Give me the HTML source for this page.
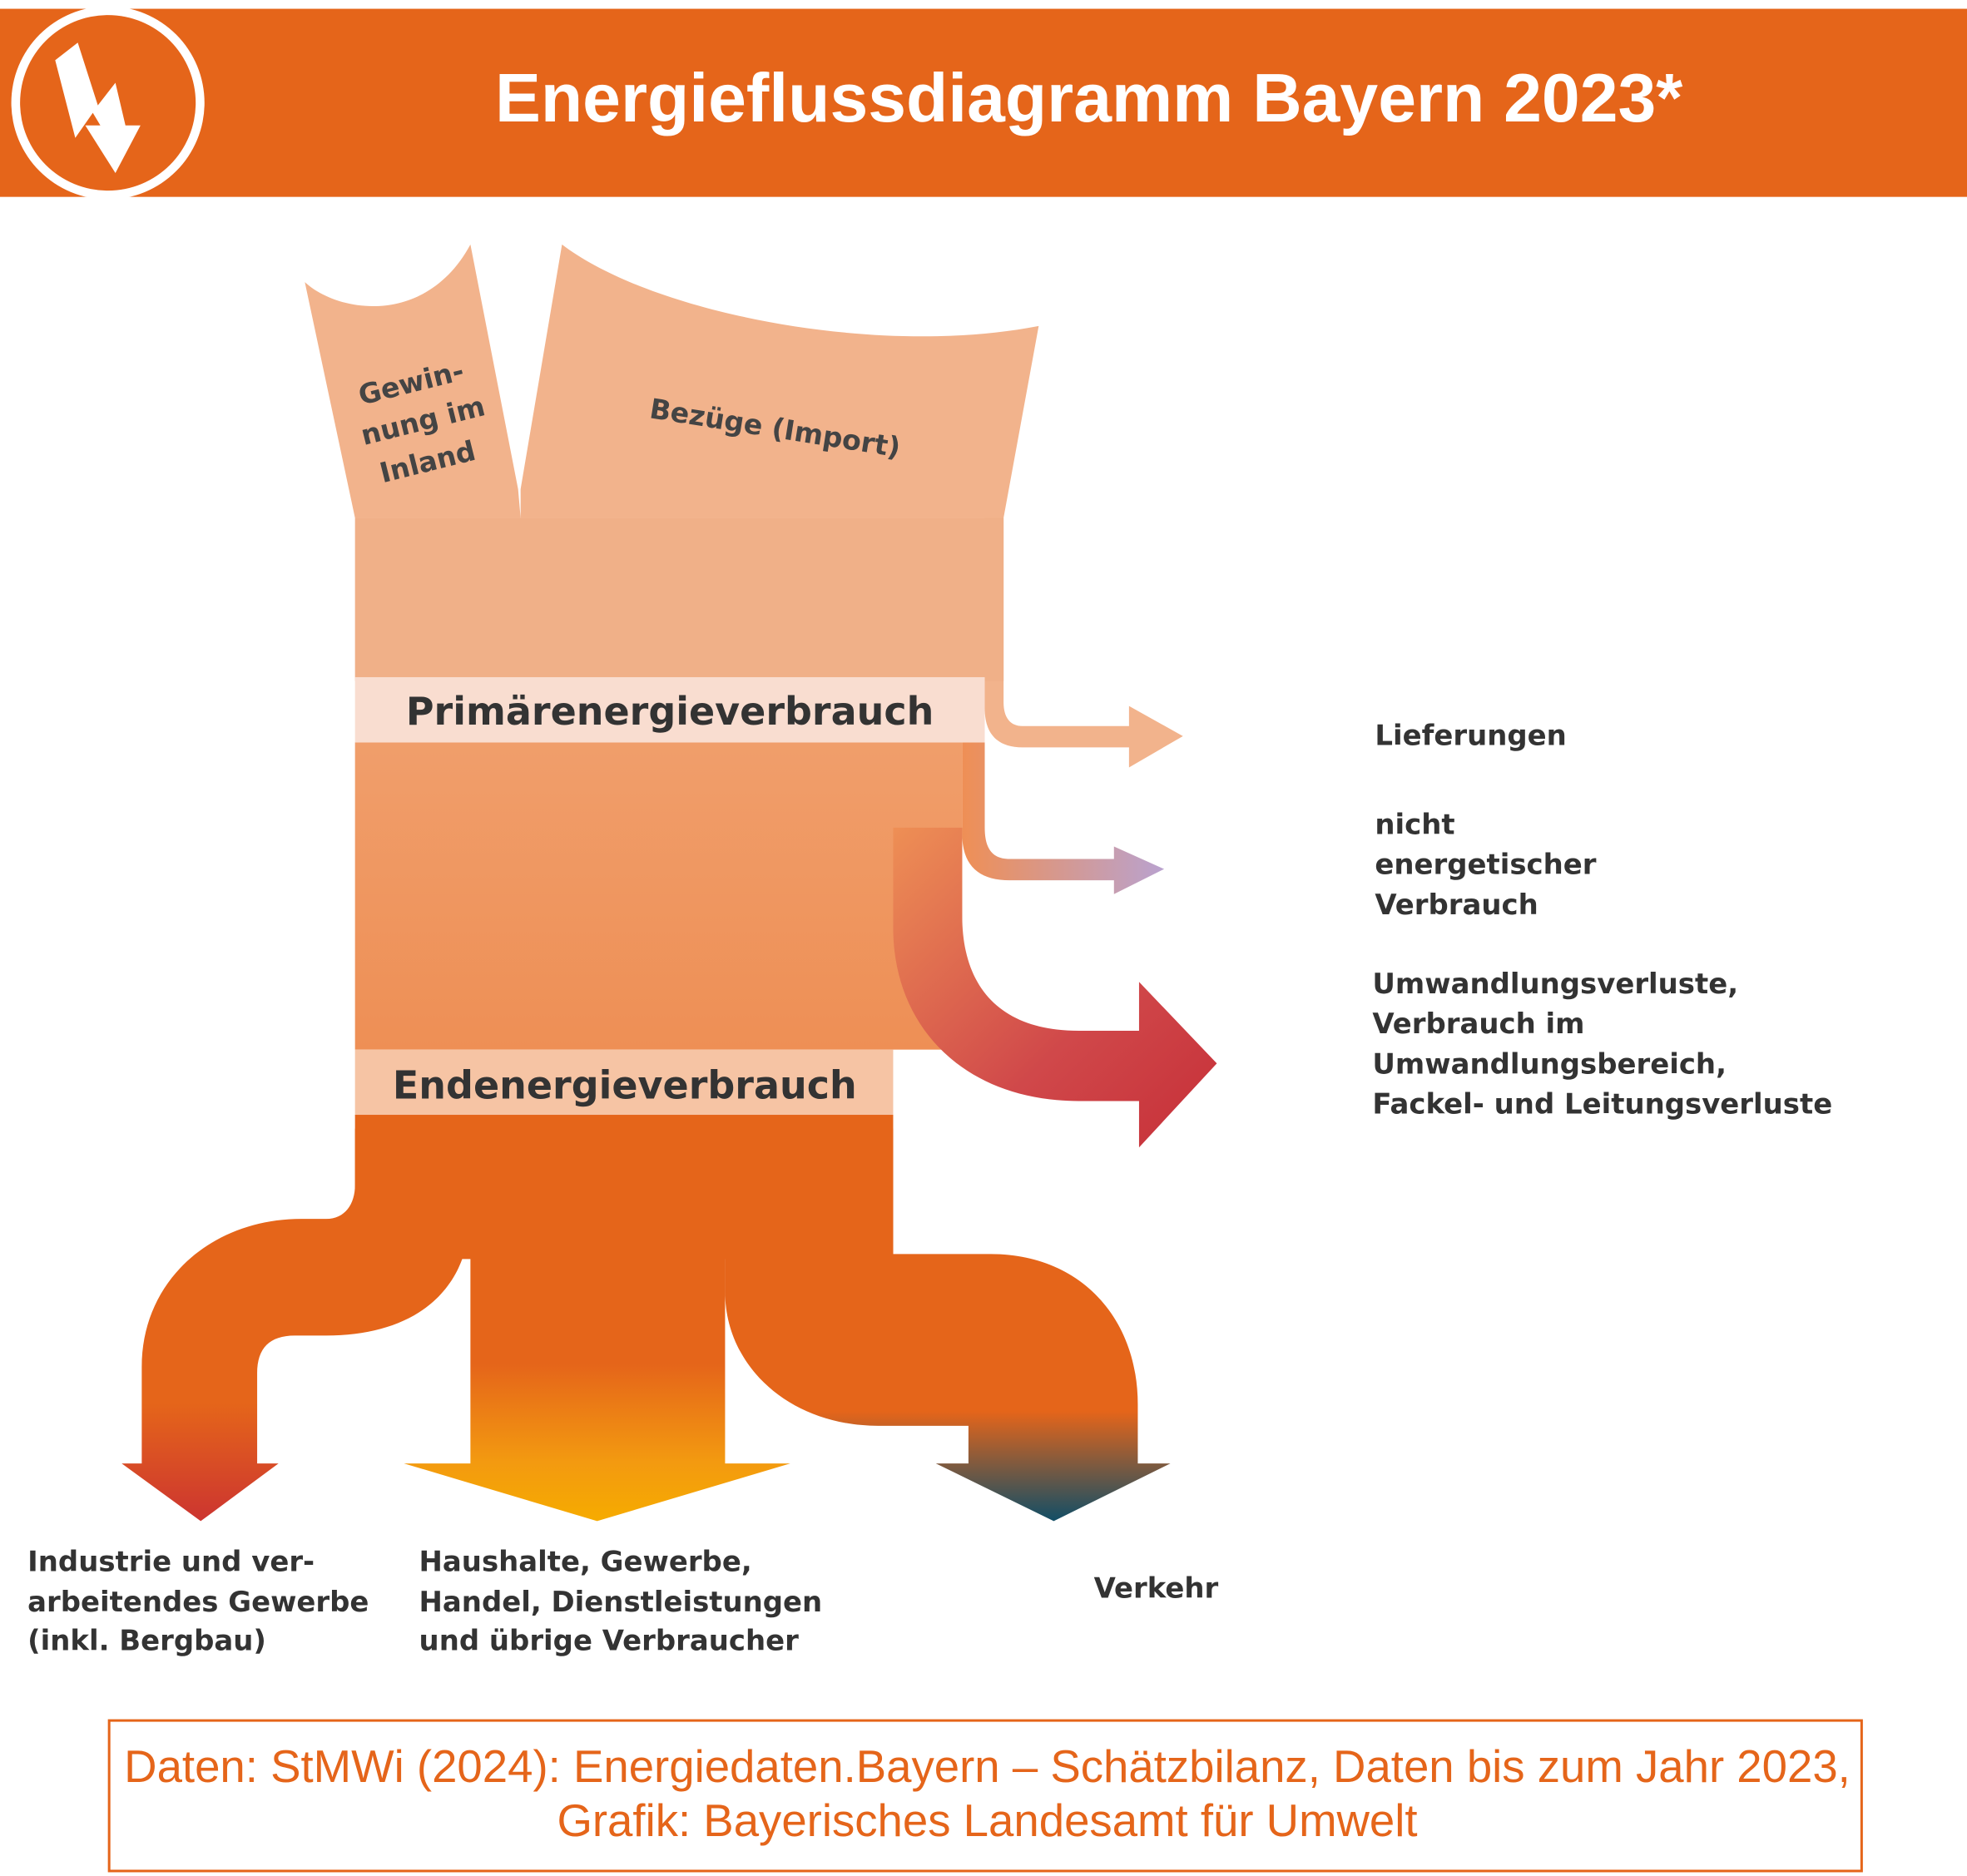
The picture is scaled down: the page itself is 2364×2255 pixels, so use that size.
<!DOCTYPE html>
<html><head><meta charset="utf-8"><style>
html,body{margin:0;padding:0;background:#fff;}
svg{display:block;}
text{font-family:"DejaVu Sans","Liberation Sans",sans-serif;}
</style></head><body>
<svg width="2364" height="2255" viewBox="0 0 1568 1496" preserveAspectRatio="none" xmlns="http://www.w3.org/2000/svg">
<defs>
<linearGradient id="gTrunk" x1="0" y1="0" x2="0" y2="1">
<stop offset="0" stop-color="#f09e6b"/><stop offset="1" stop-color="#ee8f55"/></linearGradient>
<linearGradient id="gUmw" x1="0" y1="0" x2="1" y2="1">
<stop offset="0" stop-color="#ee8f55"/><stop offset="0.6" stop-color="#d0484a"/><stop offset="1" stop-color="#c62f38"/></linearGradient>
<linearGradient id="gNE" x1="0" y1="0" x2="1" y2="0">
<stop offset="0" stop-color="#ef8f55"/><stop offset="1" stop-color="#b9a2cf"/></linearGradient>
<linearGradient id="gInd" x1="0" y1="0" x2="0" y2="1">
<stop offset="0" stop-color="#e5651a"/><stop offset="0.7" stop-color="#e5651a"/><stop offset="1" stop-color="#cc3530"/></linearGradient>
<linearGradient id="gHH" x1="0" y1="0" x2="0" y2="1">
<stop offset="0" stop-color="#e5651a"/><stop offset="0.6" stop-color="#e5651a"/><stop offset="0.85" stop-color="#f39a10"/><stop offset="1" stop-color="#f6ab00"/></linearGradient>
<linearGradient id="gVK" x1="0" y1="0" x2="0" y2="1">
<stop offset="0" stop-color="#e5651a"/><stop offset="0.72" stop-color="#e5651a"/><stop offset="1" stop-color="#124e66"/></linearGradient>
</defs>
<rect x="0" y="7" width="1568" height="150" fill="#e5651a"/>
<circle cx="86" cy="82" r="77" fill="#fff"/>
<circle cx="86" cy="82" r="70" fill="#e5651a"/>
<path d="M44,48 L62,34 L78,84 L92,66 L100,100 L112,100 L92,138 L68,100 L80,100 L74,90 L60,110 Z" fill="#fff"/>
<text x="868" y="97" font-size="54.6" font-weight="bold" fill="#fff" text-anchor="middle" style="font-family:'Liberation Sans',sans-serif">Energieflussdiagramm Bayern 2023*</text>
<path d="M243,225 C270,250 340,260 375,195 L413,390 L415,413 L283,413 Z" fill="#f2b38c"/>
<path d="M448,195 C520,250 700,285 828,260 L800,413 L415,413 L415,390 Z" fill="#f2b38c"/>
<path d="M785,413 L800,413 L800,560 C800,573 806,579 815,579 L900,579 L900,563 L943,587 L900,612 L900,596 L815,596 C795,596 785,585 785,565 Z" fill="#f2b38c"/>
<rect x="283" y="413" width="517" height="130" fill="#f0b088"/>
<path d="M767,592 L785,592 L785,660 C785,678 792,685 805,685 L888,685 L888,675 L928,693 L888,713 L888,702 L805,702 C780,702 767,690 767,665 Z" fill="url(#gNE)"/>
<rect x="283" y="592" width="484" height="245" fill="url(#gTrunk)"/>
<path d="M712,660 L767,660 L767,730 C767,790 800,822 860,822 L908,822 L908,783 L970,848 L908,915 L908,878 L860,878 C770,878 712,820 712,740 Z" fill="url(#gUmw)"/>
<rect x="283" y="540" width="502" height="52" fill="#f9ddd0"/>
<text x="534" y="578" font-size="30.5" font-weight="bold" fill="#333" text-anchor="middle">Primärenergieverbrauch</text>
<rect x="283" y="837" width="429" height="53" fill="#f6c4a4"/>
<text x="498" y="876" font-size="30.5" font-weight="bold" fill="#333" text-anchor="middle">Endenergieverbrauch</text>
<rect x="283" y="889" width="429" height="115" fill="#e5651a"/>
<path d="M283,900 L375,900 L375,965 C375,1030 330,1065 260,1065 L235,1065 C215,1065 205,1075 205,1095 L205,1167 L222,1167 L160,1213 L97,1167 L113,1167 L113,1090 C113,1020 170,972 240,972 L260,972 C275,972 283,960 283,945 Z" fill="url(#gInd)"/>
<path d="M375,900 L578,900 L578,1167 L630,1167 L476,1213 L322,1167 L375,1167 Z" fill="url(#gHH)"/>
<path d="M578,900 L712,900 L712,1000 L790,1000 C860,1000 907,1050 907,1120 L907,1167 L933,1167 L840,1213 L746,1167 L772,1167 L772,1137 L700,1137 C630,1137 578,1090 578,1030 Z" fill="url(#gVK)"/>
<g font-size="22" font-weight="bold" fill="#444">
<text transform="translate(288,323) rotate(-14)">Gewin-</text>
<text transform="translate(290,355) rotate(-14)">nung im</text>
<text transform="translate(305,385) rotate(-14)">Inland</text>
<text transform="translate(517,333) rotate(9)">Bezüge (Import)</text>
</g>
<g font-size="22.5" font-weight="bold" fill="#333">
<text x="1096" y="594">Lieferungen</text>
<text x="1096" y="665">nicht</text>
<text x="1096" y="697">energetischer</text>
<text x="1096" y="729">Verbrauch</text>
<text x="1094" y="792">Umwandlungsverluste,</text>
<text x="1094" y="824">Verbrauch im</text>
<text x="1094" y="856">Umwandlungsbereich,</text>
<text x="1094" y="888">Fackel- und Leitungsverluste</text>
<text x="22" y="1253">Industrie und ver-</text>
<text x="22" y="1285">arbeitendes Gewerbe</text>
<text x="22" y="1316">(inkl. Bergbau)</text>
<text x="334" y="1253">Haushalte, Gewerbe,</text>
<text x="334" y="1285">Handel, Dienstleistungen</text>
<text x="334" y="1316">und übrige Verbraucher</text>
<text x="872" y="1274">Verkehr</text>
</g>
<rect x="87" y="1372" width="1397" height="120" fill="none" stroke="#e5651a" stroke-width="2"/>
<g font-size="36.2" fill="#e5651a" text-anchor="middle">
<text x="787" y="1421" style="font-family:'Liberation Sans',sans-serif">Daten: StMWi (2024): Energiedaten.Bayern – Schätzbilanz, Daten bis zum Jahr 2023,</text>
<text x="787" y="1464" style="font-family:'Liberation Sans',sans-serif">Grafik: Bayerisches Landesamt für Umwelt</text>
</g>
</svg>
</body></html>
